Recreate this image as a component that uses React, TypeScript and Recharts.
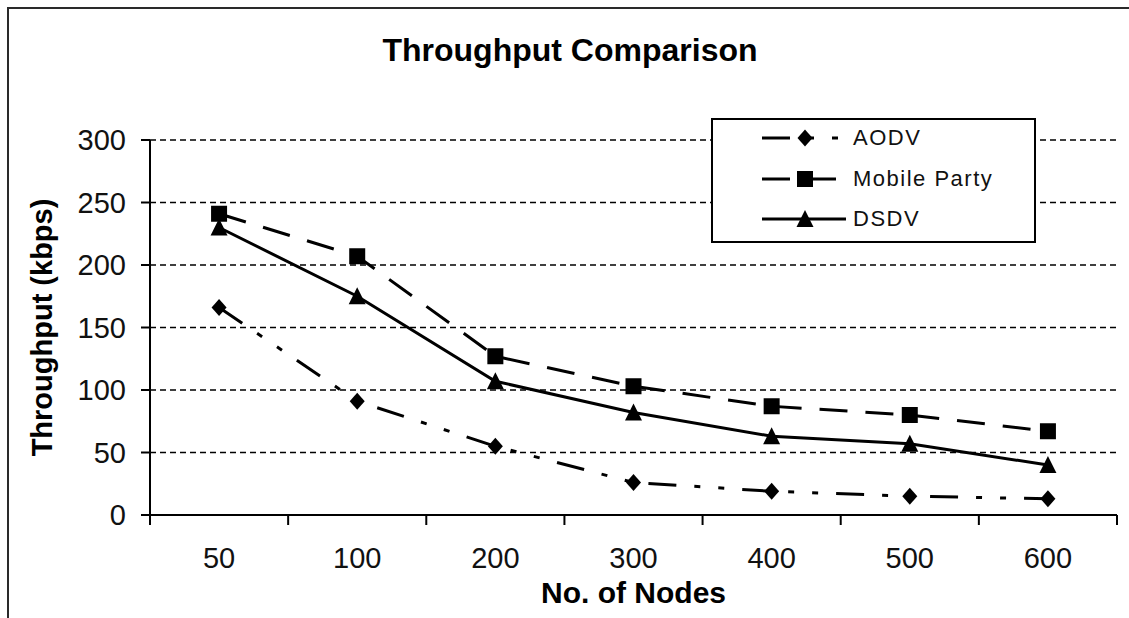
import React from 'react';
import { LineChart, Line, XAxis, YAxis, CartesianGrid, Legend } from 'recharts';

const categories = ['50', '100', '200', '300', '400', '500', '600'];
const aodv = [166, 91, 55, 26, 19, 15, 13];
const mobileParty = [241, 207, 127, 103, 87, 80, 67];
const dsdv = [230, 175, 107, 82, 63, 57, 40];
const yTicks = [0, 50, 100, 150, 200, 250, 300];

const data = categories.map((label, i) => ({
    x: i + 0.5,
    label,
    aodv: aodv[i],
    mobile: mobileParty[i],
    dsdv: dsdv[i],
}));

// tick marks sit between categories, labels sit in the middle
const boundaryTicks = [...categories.map((_, i) => i), categories.length];

const FONT = '"Liberation Sans", Arial, sans-serif';

type Shape = 'diamond' | 'square' | 'triangle';

const marker = (shape: Shape, cx: number, cy: number, key?: string) => {
    if (shape === 'diamond') {
        return <path key={key} d={`M${cx},${cy - 8.5}L${cx + 7.5},${cy}L${cx},${cy + 8.5}L${cx - 7.5},${cy}Z`} fill="#000" />;
    }
    if (shape === 'square') {
        return <rect key={key} x={cx - 8} y={cy - 8} width={16} height={16} fill="#000" />;
    }
    return <path key={key} d={`M${cx},${cy - 9}L${cx + 8.5},${cy + 8}L${cx - 8.5},${cy + 8}Z`} fill="#000" />;
};

const series: { key: string; name: string; dash?: string; shape: Shape }[] = [
    { key: 'aodv', name: 'AODV', dash: '28 18 6 18 6 18', shape: 'diamond' },
    { key: 'mobile', name: 'Mobile Party', dash: '28 18', shape: 'square' },
    { key: 'dsdv', name: 'DSDV', shape: 'triangle' },
];

const LegendBox = () => (
    <div
        style={{
            width: 325,
            height: 125,
            boxSizing: 'border-box',
            border: '2px solid #000',
            background: '#fff',
            paddingLeft: 49,
            fontFamily: FONT,
        }}
    >
        <div style={{ marginTop: -2 }}>
            {series.map((s) => (
                <div key={s.key} style={{ height: 40.5, display: 'flex', alignItems: 'center' }}>
                    <svg width={84} height={20} style={{ display: 'block' }}>
                        <line x1={0} y1={10} x2={84} y2={10} stroke="#000" strokeWidth={3} strokeDasharray={s.dash} />
                        {marker(s.shape, 43, 10)}
                    </svg>
                    <span style={{ marginLeft: 7, fontSize: 22, letterSpacing: 1.5, color: '#111' }}>{s.name}</span>
                </div>
            ))}
        </div>
    </div>
);

export default function App() {
    return (
        <div
            style={{
                position: 'fixed',
                left: 0,
                top: 0,
                width: 1129,
                height: 618,
                background: '#fff',
                overflow: 'hidden',
                fontFamily: FONT,
            }}
        >
            <div
                style={{
                    position: 'absolute',
                    left: 7,
                    top: 7,
                    right: -10,
                    bottom: -10,
                    borderLeft: '2px solid #2a2a2a',
                    borderTop: '2px solid #2a2a2a',
                }}
            />
            <div
                style={{
                    position: 'absolute',
                    left: 0,
                    top: 34,
                    width: 1140,
                    textAlign: 'center',
                    fontSize: 32,
                    lineHeight: '32px',
                    fontWeight: 700,
                    color: '#000',
                }}
            >
                Throughput Comparison
            </div>
            <div style={{ position: 'absolute', left: 0, top: 0 }}>
                <LineChart width={1129} height={618} data={data} margin={{ top: 140, right: 12, bottom: 13, left: 0 }}>
                    <CartesianGrid vertical={false} stroke="#000" strokeWidth={1.5} strokeDasharray="6 4" />
                    <XAxis
                        type="number"
                        dataKey="x"
                        domain={[0, categories.length]}
                        allowDataOverflow
                        ticks={boundaryTicks}
                        interval={0}
                        tickFormatter={() => ''}
                        tickSize={10}
                        height={10}
                        axisLine={{ stroke: '#000', strokeWidth: 2 }}
                        tickLine={{ stroke: '#000', strokeWidth: 2 }}
                    />
                    <XAxis
                        xAxisId="lab"
                        type="number"
                        dataKey="x"
                        domain={[0, categories.length]}
                        allowDataOverflow
                        ticks={data.map((d) => d.x)}
                        interval={0}
                        tickFormatter={(v: number) => categories[Math.floor(v)]}
                        axisLine={false}
                        tickLine={false}
                        tickSize={0}
                        tickMargin={22}
                        height={80}
                        tick={{ fontSize: 29, fill: '#111', fontFamily: FONT }}
                        label={{
                            value: 'No. of Nodes',
                            position: 'insideBottom',
                            offset: 2,
                            style: { fontSize: 30, fontWeight: 700, fill: '#000', fontFamily: FONT },
                        }}
                    />
                    <YAxis
                        width={150}
                        domain={[0, 300]}
                        ticks={yTicks}
                        interval={0}
                        tickSize={9}
                        tickMargin={15}
                        axisLine={{ stroke: '#000', strokeWidth: 2 }}
                        tickLine={{ stroke: '#000', strokeWidth: 2 }}
                        tick={{ fontSize: 29, fill: '#111', fontFamily: FONT }}
                        label={{
                            value: 'Throughput (kbps)',
                            angle: -90,
                            position: 'insideLeft',
                            offset: 42,
                            style: { textAnchor: 'middle', fontSize: 29, fontWeight: 700, fill: '#000', fontFamily: FONT },
                        }}
                    />
                    <Legend
                        layout="vertical"
                        align="center"
                        verticalAlign="middle"
                        wrapperStyle={{ left: 711, top: 118, width: 325, height: 125 }}
                        content={() => <LegendBox />}
                    />
                    {series.map((s) => (
                        <Line
                            key={s.key}
                            xAxisId="lab"
                            dataKey={s.key}
                            name={s.name}
                            stroke="#000"
                            strokeWidth={3}
                            strokeDasharray={s.dash}
                            dot={(p: any) => marker(s.shape, p.cx, p.cy, `${s.key}-${p.index}`)}
                            activeDot={false}
                            isAnimationActive={false}
                        />
                    ))}
                </LineChart>
            </div>
        </div>
    );
}
